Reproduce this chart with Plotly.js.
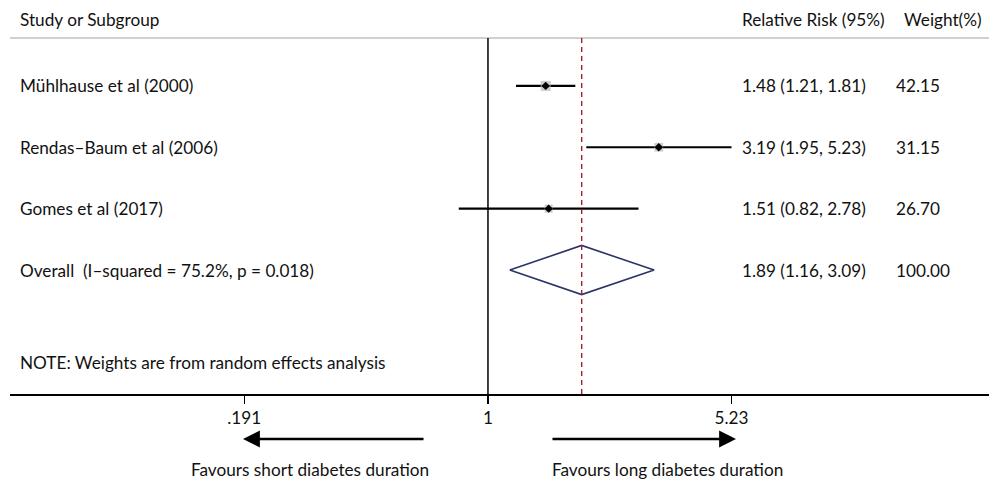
<!DOCTYPE html>
<html>
<head>
<meta charset="utf-8">
<script src="https://cdn.plot.ly/plotly-3.0.1.min.js"></script>
<style>html,body{margin:0;padding:0;background:#fff}#chart{width:989px;height:483px}</style>
</head>
<body>
<div id="chart"></div>
<script>
// ---- data ----
const studies = ["Mühlhause et al (2000)", "Rendas–Baum et al (2006)", "Gomes et al (2017)"];
const rr = [1.48, 3.19, 1.51];
const lo = [1.21, 1.95, 0.82];
const hi = [1.81, 5.23, 2.78];
const weights = ["42.15", "31.15", "26.70"];
const overallLabel = "Overall  (I–squared = 75.2%, p = 0.018)";
const overallRR = 1.89, overallLo = 1.16, overallHi = 3.09;
const overallWeight = "100.00";
const tickVals = [0.191, 1, 5.23];
const tickText = [".191", "1", "5.23"];
const note = "NOTE: Weights are from random effects analysis";

const FONT = "Lato, 'Open Sans', sans-serif";
const FS = 17.2;
const rows = studies.map((_, i) => i);
const overallRow = studies.length;

const traces = [];
// CI lines
studies.forEach((s, i) => {
  traces.push({type: "scatter", mode: "lines", x: [lo[i], hi[i]], y: [i, i],
    line: {color: "#000", width: 2.2}, hoverinfo: "skip", showlegend: false});
});
// weight boxes
traces.push({type: "scatter", mode: "markers", x: rr, y: rows,
  marker: {symbol: "square", color: "#b8b8b8", size: weights.map(w => Math.sqrt(parseFloat(w)) * 1.55), line: {width: 0}},
  showlegend: false});
// point estimates
traces.push({type: "scatter", mode: "markers", x: rr, y: rows,
  marker: {symbol: "diamond", color: "#000", size: 6.5}, showlegend: false});
// overall diamond
traces.push({type: "scatter", mode: "lines",
  x: [overallLo, overallRR, overallHi, overallRR, overallLo],
  y: [overallRow, overallRow - 0.4, overallRow, overallRow + 0.4, overallRow],
  fill: "toself", fillcolor: "#fff", line: {color: "#2b3467", width: 1.6}, showlegend: false});

const px = p => (p - 10) / 979; // pixel x -> paper
const py = p => (394 - p) / 356; // pixel y -> paper

const ann = [];
const txt = (x, y, text, xanchor, yref) => ({xref: "paper", yref: yref || "y", x, y, text, showarrow: false,
  xanchor: xanchor || "left", yanchor: "middle", font: {family: FONT, size: FS, color: "#111"}});
ann.push(txt(px(18), py(20), "Study or Subgroup", "left", "paper"));
ann.push(txt(px(740), py(20), "Relative Risk (95%)", "left", "paper"));
ann.push(txt(px(902), py(20), "Weight(%)", "left", "paper"));
studies.forEach((s, i) => {
  ann.push(txt(px(18), i, s));
  ann.push(txt(px(740), i, rr[i].toFixed(2) + " (" + lo[i].toFixed(2) + ", " + hi[i].toFixed(2) + ")"));
  ann.push(txt(px(894), i, weights[i]));
});
ann.push(txt(px(18), overallRow, overallLabel));
ann.push(txt(px(740), overallRow, overallRR.toFixed(2) + " (" + overallLo.toFixed(2) + ", " + overallHi.toFixed(2) + ")"));
ann.push(txt(px(894), overallRow, overallWeight));
ann.push(txt(px(18), 4.5, note));
// arrows
ann.push({xref: "paper", yref: "paper", x: px(243), y: py(439), ax: 182, ay: 0, axref: "pixel", ayref: "pixel",
  showarrow: true, arrowhead: 2, arrowsize: 1.3, arrowwidth: 2.6, arrowcolor: "#000", text: ""});
ann.push({xref: "paper", yref: "paper", x: px(736), y: py(439), ax: -185, ay: 0, axref: "pixel", ayref: "pixel",
  showarrow: true, arrowhead: 2, arrowsize: 1.3, arrowwidth: 2.6, arrowcolor: "#000", text: ""});
ann.push(txt(px(431), py(469), "Favours short diabetes duration", "right", "paper"));
ann.push(txt(px(550), py(469), "Favours long diabetes duration", "left", "paper"));

const layout = {
  width: 989, height: 483,
  margin: {l: 10, r: 0, t: 38, b: 89},
  paper_bgcolor: "#fff", plot_bgcolor: "#fff",
  showlegend: false,
  xaxis: {type: "log", range: [-1.410, 1.478], showgrid: false, zeroline: false,
    showline: true, linecolor: "#000", linewidth: 1.5, ticks: "outside", ticklen: 8, tickwidth: 1.5, tickcolor: "#000",
    tickvals: tickVals, ticktext: tickText, tickfont: {family: FONT, size: FS, color: "#111"}, fixedrange: true},
  yaxis: {range: [5.02, -0.78], visible: false, fixedrange: true},
  shapes: [
    {type: "line", xref: "paper", yref: "paper", x0: 0, x1: 1, y0: 1, y1: 1, line: {color: "#c0c0c0", width: 1.5}},
    {type: "line", xref: "x", yref: "paper", x0: 1, x1: 1, y0: 0, y1: 1, line: {color: "#000", width: 1.5}},
    {type: "line", xref: "x", yref: "paper", x0: overallRR, x1: overallRR, y0: 0, y1: 1, line: {color: "#a3202a", width: 1.4, dash: "5px,4px"}}
  ],
  annotations: ann
};
Plotly.newPlot("chart", traces, layout, {displayModeBar: false, staticPlot: true});
</script>
</body>
</html>
